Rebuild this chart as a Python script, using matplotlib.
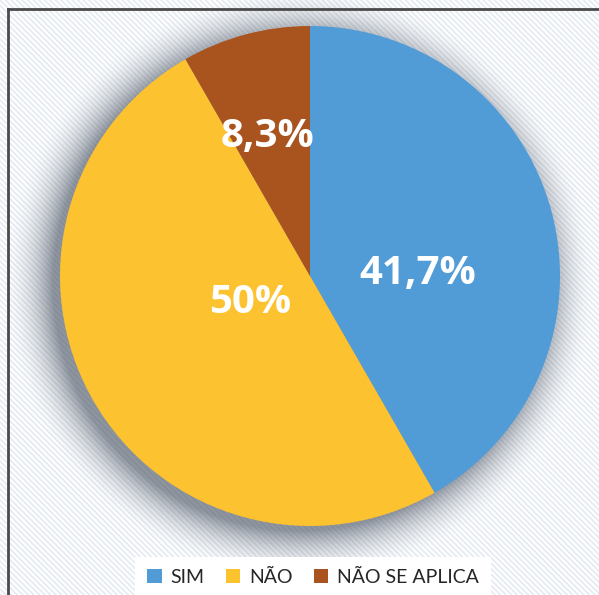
import numpy as np
import matplotlib.pyplot as plt
from matplotlib.patches import Rectangle
from matplotlib.lines import Line2D

# data
categorias = ["SIM", "NÃO", "NÃO SE APLICA"]
valores = [41.7, 50.0, 8.3]
rotulos = ["41,7%", "50%", "8,3%"]
cores = ["#519CD6", "#FCC22F", "#A9541F"]

# label placement (fraction of radius), tuned by eye
label_xy = [(0.43, 0.01), (-0.24, -0.105), (-0.17, 0.56)]

plt.rcParams['font.family'] = ['Lato', 'DejaVu Sans']
plt.rcParams['hatch.linewidth'] = 1.3

fig = plt.figure(figsize=(5.99, 5.95), dpi=100)

# striped background
bg = Rectangle((0, 0), 1, 1, transform=fig.transFigure, facecolor='white',
               edgecolor='#e6ebf3', hatch='\\\\\\\\\\\\', lw=0, zorder=-10)
fig.patches.append(bg)

ax = fig.add_axes([0, 0, 1, 1])
ax.set_facecolor('none')

xmin, xmax = -310 / 250, 289 / 250
ymin, ymax = -319 / 250, 276 / 250

# soft shadow around the pie (blurred disk, shifted a bit left/down)
gx, gy = np.meshgrid(np.linspace(xmin, xmax, 600), np.linspace(ymin, ymax, 600))
d = np.hypot(gx + 0.04, gy + 0.03) - 0.99
amax = 0.6
a = amax * np.clip(1 - d / 0.2, 0, 1) ** 2.0
a[d < 0] = amax
sh = np.zeros(gx.shape + (4,))
sh[..., 0], sh[..., 1], sh[..., 2] = 0.27, 0.31, 0.37
sh[..., 3] = a
ax.imshow(sh, extent=(xmin, xmax, ymin, ymax), origin='lower', zorder=1,
          interpolation='bilinear', aspect='auto')

wedges, _ = ax.pie(valores, colors=cores, startangle=90, counterclock=False,
                   radius=1.0, wedgeprops=dict(linewidth=0))
for w in wedges:
    w.set_zorder(3)

for txt, (x, y) in zip(rotulos, label_xy):
    ax.text(x, y, txt, ha='center', va='center', color='white',
            fontsize=29, fontweight='bold', family='Open Sans', zorder=5)

ax.set_xlim(xmin, xmax)
ax.set_ylim(ymin, ymax)
ax.set_aspect('auto')
ax.axis('off')

handles = [Rectangle((0, 0), 1, 1, facecolor=c, edgecolor='none') for c in cores]
leg = fig.legend(handles, categorias, loc='center', bbox_to_anchor=(313 / 599, 1 - 577 / 595),
                 ncol=3, frameon=True, fontsize=14, handlelength=0.75, handleheight=0.75,
                 handletextpad=0.45, columnspacing=1.1, borderpad=0.6, fancybox=False)
leg.get_frame().set_facecolor('white')
leg.get_frame().set_edgecolor('none')
leg.get_frame().set_alpha(1)
for t in leg.get_texts():
    t.set_color('#262626')

# frame lines (top and left)
fig.lines.append(Line2D([8 / 599, 1], [1 - 9 / 595, 1 - 9 / 595], transform=fig.transFigure,
                        color='#4a4a4a', lw=2))
fig.lines.append(Line2D([8 / 599, 8 / 599], [0, 1 - 9 / 595], transform=fig.transFigure,
                        color='#4a4a4a', lw=2))

fig.savefig('out.png', dpi=100)
